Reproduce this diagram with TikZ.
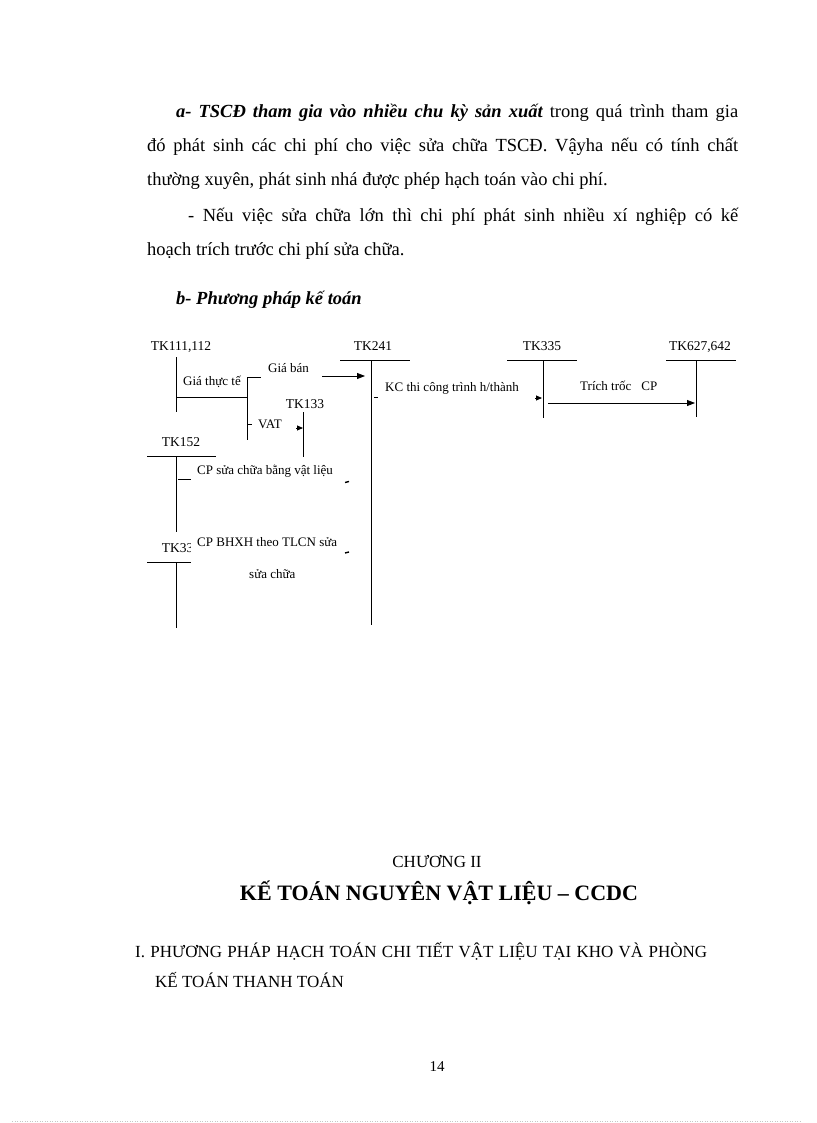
\documentclass[tikz,border=0pt]{standalone}
\usepackage{fontspec}
\setmainfont{Liberation Serif}
\usetikzlibrary{arrows.meta}
\begin{document}
\begin{tikzpicture}[x=1pt,y=-1pt,
  ln/.style={line width=0.8pt},
  lbl/.style={font=\fontsize{13}{15}\selectfont, inner sep=0pt},
  tklbl/.style={font=\fontsize{13.5}{15}\selectfont, inner sep=0pt, anchor=base},
  body/.style={font=\fontsize{18.5}{22}\selectfont, inner sep=0pt, anchor=base west},
  arrowto/.style={ln,-{Triangle[length=8pt,width=6pt]}},
  smalltip/.style={ln,-{Triangle[length=6pt,width=5pt]}},
  tickmark/.style={line width=1.4pt},
]
\useasboundingbox (0,0) rectangle (816,1123);

% ---------- body text ----------
\node[body] (l1) at (176,118) {\makebox[562pt][s]{\bfseries\itshape a- TSCĐ tham gia vào nhiều chu kỳ sản xuất\normalfont\ trong quá trình tham gia}};
\node[body] (l2) at (147,152) {\makebox[591pt][s]{đó phát sinh các chi phí cho việc sửa chữa TSCĐ. Vậyha nếu có tính chất}};
\node[body] (l3) at (147,186) {thường xuyên, phát sinh nhá được phép hạch toán vào chi phí.};
\node[body] (l4) at (188,222) {\makebox[550pt][s]{- Nếu việc sửa chữa lớn thì chi phí phát sinh nhiều xí nghiệp có kế}};
\node[body] (l5) at (147,255) {hoạch trích trước chi phí sửa chữa.};
\node[body, font=\fontsize{18.5}{22}\selectfont\bfseries\itshape] (lb) at (176,304) {b- Phương pháp kế toán};

% ---------- TK111,112 ----------
\node[tklbl] (tk111) at (181,350) {TK111,112};
\coordinate (v111t) at (176,357); \coordinate (v111b) at (176,412);
\draw[ln] (v111t) -- (v111b);
\coordinate (h1a) at (176,397); \coordinate (h1b) at (247,397);
\draw[ln] (h1a) -- (h1b);
\coordinate (vmidt) at (247,377); \coordinate (vmidb) at (247,440);
\draw[ln] (vmidt) -- (vmidb);
\coordinate (ttick) at (261,377);
\draw[ln] (vmidt) -- (ttick);
\node[lbl, anchor=west] (giatt) at (183,382) {Giá thực tế};
\node[lbl, anchor=west] (giaban) at (268,368) {Giá bán};
\coordinate (arrs) at (322,376); \coordinate (arre) at (365,376);
\draw[arrowto] (arrs) -- (arre);
\coordinate (vatt1) at (247,424); \coordinate (vatt2) at (252,424);
\draw[ln] (vatt1) -- (vatt2);
\node[lbl, anchor=west] (vat) at (258,424) {VAT};

% ---------- TK133 ----------
\node[tklbl] (tk133) at (305,408) {TK133};
\coordinate (v133t) at (303,412); \coordinate (v133b) at (303,457);
\draw[ln] (v133t) -- (v133b);
\coordinate (vata) at (296,428); \coordinate (vatb) at (303,428);
\draw[smalltip] (vata) -- (vatb);

% ---------- TK241 ----------
\node[tklbl] (tk241) at (373,350) {TK241};
\coordinate (h241a) at (340,360); \coordinate (h241b) at (410,360);
\draw[ln] (h241a) -- (h241b);
\coordinate (v241t) at (371,360); \coordinate (v241b) at (371,625);
\draw[ln] (v241t) -- (v241b);
\coordinate (d241a) at (374,397); \coordinate (d241b) at (378,397);
\draw[ln] (d241a) -- (d241b);
\node[lbl, anchor=west] (kc) at (385,388) {KC thi công trình h/thành};

% ---------- TK335 ----------
\node[tklbl] (tk335) at (542,350) {TK335};
\coordinate (h335a) at (507,360); \coordinate (h335b) at (577,360);
\draw[ln] (h335a) -- (h335b);
\coordinate (v335t) at (543,360); \coordinate (v335b) at (543,418);
\draw[ln] (v335t) -- (v335b);
\coordinate (kca) at (535,398); \coordinate (kcb) at (542,398);
\draw[smalltip] (kca) -- (kcb);
\coordinate (trs) at (548,403); \coordinate (tre) at (695,403);
\draw[arrowto] (trs) -- (tre);
\node[lbl, anchor=west] (trich) at (580,386) {Trích trốc\hspace{10pt}CP};

% ---------- TK627,642 ----------
\node[tklbl] (tk627) at (700,350) {TK627,642};
\coordinate (h627a) at (666,360); \coordinate (h627b) at (736,360);
\draw[ln] (h627a) -- (h627b);
\coordinate (v627t) at (696,360); \coordinate (v627b) at (696,417);
\draw[ln] (v627t) -- (v627b);

% ---------- TK152 ----------
\node[tklbl] (tk152) at (181,446) {TK152};
\coordinate (h152a) at (147,456); \coordinate (h152b) at (216,456);
\draw[ln] (h152a) -- (h152b);
\coordinate (v152t) at (176,456); \coordinate (v152b) at (176,532);
\draw[ln] (v152t) -- (v152b);
\coordinate (t152a) at (178,479); \coordinate (t152b) at (191,479);
\draw[ln] (t152a) -- (t152b);
\node[lbl, anchor=west] (cpvl) at (197,471) {CP sửa chữa bằng vật liệu};
\coordinate (m1a) at (345,482.5); \coordinate (m1b) at (349,481.5);
\draw[tickmark] (m1a) -- (m1b);

% ---------- TK334 ----------
\node[tklbl] (tk334) at (181,552) {TK334};
\coordinate (h334a) at (147,562); \coordinate (h334b) at (216,562);
\draw[ln] (h334a) -- (h334b);
\coordinate (v334t) at (176,562); \coordinate (v334b) at (176,628);
\draw[ln] (v334t) -- (v334b);
\fill[white] (191,529) rectangle (343,566);
\node[lbl, anchor=west] (cpbh) at (197,542) {CP BHXH theo TLCN sửa};
\node[lbl, anchor=west] (suachua) at (249,574) {sửa chữa};
\coordinate (m2a) at (345,553); \coordinate (m2b) at (349,552);
\draw[tickmark] (m2a) -- (m2b);

% ---------- chapter heading ----------
\node[inner sep=0pt, font=\fontsize{17}{20}\selectfont] (chuong) at (437,862) {CHƯƠNG II};
\node[inner sep=0pt, font=\fontsize{22}{26}\selectfont\bfseries] (ketoan) at (439,893) {KẾ TOÁN NGUYÊN VẬT LIỆU – CCDC};
\node[inner sep=0pt, anchor=west, font=\fontsize{17}{20}\selectfont] (sec1) at (135,951) {\makebox[572pt][s]{I. PHƯƠNG PHÁP HẠCH TOÁN CHI TIẾT VẬT LIỆU TẠI KHO VÀ PHÒNG}};
\node[inner sep=0pt, anchor=west, font=\fontsize{17}{20}\selectfont] (sec2) at (155,980) {KẾ TOÁN THANH TOÁN};
\node[inner sep=0pt, font=\fontsize{15}{18}\selectfont] (pg) at (437,1067) {14};

% ---------- bottom dotted rule ----------
\coordinate (dl) at (12,1121); \coordinate (dr) at (800,1121);
\draw[gray!45, dotted, line width=0.5pt] (dl) -- (dr);
\end{tikzpicture}
\end{document}
